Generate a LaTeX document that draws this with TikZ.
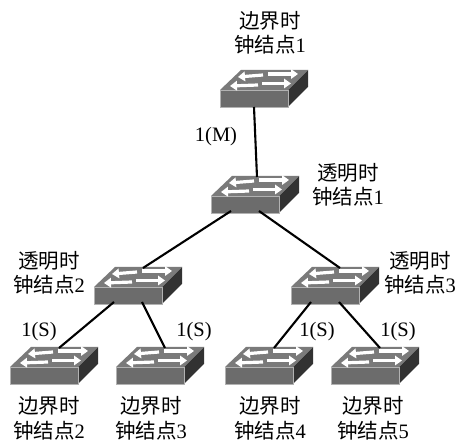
\documentclass[tikz,border=0pt]{standalone}
\usepackage{fontspec}
\setmainfont{Liberation Serif}
\newfontfamily\cjk{Noto Sans CJK SC}
\usepackage{xcolor}
\usetikzlibrary{arrows.meta}
\definecolor{frontgray}{RGB}{108, 108, 108}
\definecolor{topgray}{RGB}{122, 122, 122}
\definecolor{sidegray}{RGB}{50, 50, 50}
\tikzset{
  lbl/.style={font=\fontsize{20.5}{24.5}\selectfont, align=center, inner sep=0pt},
  port/.style={font=\fontsize{20.5}{24.5}\selectfont, inner sep=0pt},
  link/.style={line width=2.1pt, black},
  flow/.style={white, line width=3.2pt, -{Triangle[width=9.5pt,length=7pt]}},
  pics/switchbox/.style={code={
    % front, top and side faces
    \fill[sidegray] (68,0) -- (88,-20) -- (88,-3) -- (68,17) -- cycle;
    \fill[topgray] (0,0) -- (21,-20) -- (88,-20) -- (68,0) -- cycle;
    \node[fill=frontgray, draw=gray!60, line width=0.6pt, minimum width=68pt, minimum height=17pt,
          inner sep=0pt, outer sep=0pt, anchor=north west] (-front) at (0,0) {};
    % white arrows on the top face
    \draw[flow] (43,-15) -- (18,-13);
    \draw[flow] (48,-16) -- (78,-16);
    \draw[flow] (38,-5) -- (10,-4);
    \draw[flow] (42,-6.5) -- (71,-6.5);
    \coordinate (-top) at (49,-19);
    \coordinate (-mid) at (34,17);
    \coordinate (-left) at (20,15);
    \coordinate (-right) at (48,15);
  }}
}
\newcommand{\nodetext}[2]{{\cjk #1}\\{\cjk 钟结点}#2}
\begin{document}
\begin{tikzpicture}[x=1pt, y=-1pt]
  \useasboundingbox (0,0) rectangle (459,443);
  % switches
  \foreach \name/\px/\py in {bc1/220/90, tc1/211/196, tc2/94/287, tc3/291/287,
                             bc2/10/367, bc3/116/367, bc4/225/367, bc5/331/367} {
    \pic (\name) at (\px,\py) {switchbox};
  }
  % links
  \draw[link] (bc1-mid) -- ([xshift=-3pt]tc1-top);
  \draw[link] (tc1-left) -- (tc2-top);
  \draw[link] (tc1-right) -- (tc3-top);
  \draw[link] (tc2-left) -- (bc2-top);
  \draw[link] (tc2-right) -- (bc3-top);
  \draw[link] (tc3-left) -- (bc4-top);
  \draw[link] (tc3-right) -- (bc5-top);
  % node names
  \node[lbl] (lb1) at (270,33) {\nodetext{边界时}{1}};
  \node[lbl] (lt1) at (348,185) {\nodetext{透明时}{1}};
  \node[lbl] (lt2) at (49,273) {\nodetext{透明时}{2}};
  \node[lbl] (lt3) at (420,273) {\nodetext{透明时}{3}};
  \foreach \i/\px in {2/49, 3/151, 4/270, 5/373} {
    \node[lbl] (lb\i) at (\px,418.5) {\nodetext{边界时}{\i}};
  }
  % port states
  \node[port] (pm) at (216,137) {1(M)};
  \foreach \i/\px in {1/39, 2/194, 3/317, 4/398} {
    \node[port] (ps\i) at (\px,332) {1(S)};
  }
\end{tikzpicture}
\end{document}
